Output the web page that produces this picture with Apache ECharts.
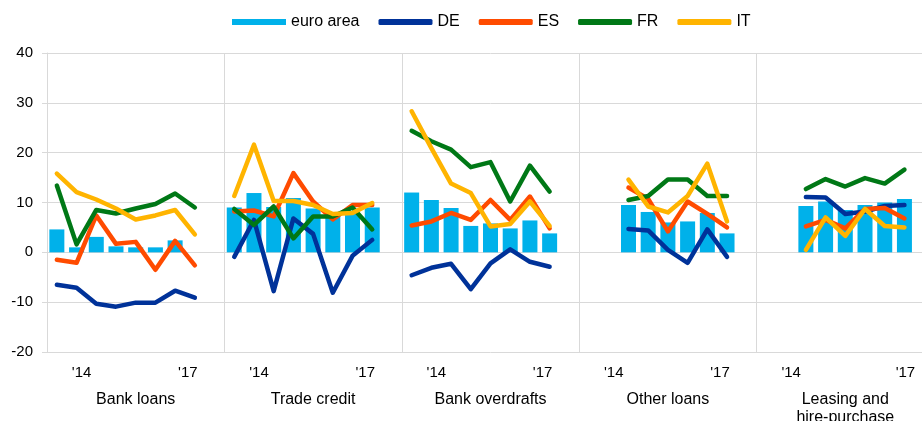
<!DOCTYPE html>
<html>
<head>
<meta charset="utf-8">
<script src="https://cdn.jsdelivr.net/npm/echarts@6/dist/echarts.min.js"></script>
<style>
  html, body { margin: 0; padding: 0; overflow: hidden; background: #fff; }
  #chart { width: 940px; height: 421px; }
</style>
</head>
<body>
<div id="chart"></div>
<script>
// panels (instrument groups) and the survey rounds inside each one
const panels = ["Bank loans", "Trade credit", "Bank overdrafts", "Other loans", "Leasing and\nhire-purchase"];
const periods = ["2013H2", "2014H1", "2014H2", "2015H1", "2015H2", "2016H1", "2016H2", "2017H1"];
const periodTicks = ["", "'14", "", "", "", "", "", "'17"];

// net percentages, one row per panel
const euroArea = [
  [4.6, 1.0, 3.1, 1.2, 1.0, 1.0, 2.4, 0],
  [9.0, 11.9, 9.1, 10.9, 8.8, 7.8, 7.9, 9.0],
  [12.0, 10.5, 8.9, 5.3, 5.8, 4.8, 6.4, 3.8],
  [null, null, 9.5, 8.1, 6.0, 6.2, 7.9, 3.8],
  [null, null, 9.3, 10.2, 8.5, 9.5, 10.0, 10.7]
];
const DE = [
  [-6.5, -7.1, -10.3, -10.9, -10.1, -10.1, -7.7, -9.1],
  [-0.9, 6.5, -7.8, 6.8, 3.7, -8.1, -0.7, 2.5],
  [-4.6, -3.1, -2.3, -7.4, -2.2, 0.6, -1.9, -2.9],
  [null, null, 4.7, 4.4, 0.5, -2.1, 4.6, -0.9],
  [null, null, 11.1, 11.0, 7.7, 8.2, 9.3, 9.5]
];
const ES = [
  [-1.5, -2.1, 7.4, 1.7, 2.1, -3.5, 2.3, -2.6],
  [8.2, 8.4, 7.2, 15.9, 10.2, 6.6, 9.5, 9.5],
  [5.4, 6.2, 7.9, 6.5, 10.5, 6.5, 11.2, 4.8],
  [null, null, 13.0, 10.7, 4.2, 10.2, 7.7, 5.0],
  [null, null, 5.2, 6.5, 4.8, 8.7, 8.9, 6.8]
];
const FR = [
  [13.4, 1.6, 8.5, 7.8, 8.8, 9.7, 11.8, 9.0],
  [8.7, 5.5, 9.2, 2.8, 7.2, 7.2, 9.0, 4.6],
  [24.4, 22.3, 20.6, 17.1, 18.1, 10.2, 17.4, 12.2],
  [null, null, 10.5, 11.3, 14.6, 14.6, 11.3, 11.3],
  [null, null, 12.7, 14.7, 13.2, 14.9, 13.8, 16.6]
];
const IT = [
  [15.8, 12.1, 10.6, 8.8, 6.6, 7.4, 8.5, 3.6],
  [11.3, 21.6, 10.3, 10.3, 9.5, 7.7, 7.9, 9.9],
  [28.3, 20.9, 13.8, 11.9, 5.2, 5.7, 10.2, 5.3],
  [null, null, 14.6, 9.2, 8.0, 11.3, 17.8, 6.2],
  [null, null, 0.5, 7.0, 3.3, 8.7, 5.3, 5.0]
];

const colors = {
  euro: "#00b1ea",
  DE: "#003299",
  ES: "#ff4b00",
  FR: "#007816",
  IT: "#ffb400"
};
const font = "'Liberation Sans', Arial, sans-serif";
const gridColor = "#d9d9d9";
const SLOTS = periods.length + 1; // one empty slot closes every panel

// flat category axis: 8 rounds + 1 gap per panel
const categories = [];
panels.forEach((p) => {
  periods.forEach((r) => categories.push(p + "|" + r));
  categories.push(p + "|gap");
});

const flatten = (rows) => {
  const out = [];
  rows.forEach((row) => {
    row.forEach((v) => out.push(v));
    out.push(null);
  });
  return out;
};

const lineSeries = (name, rows) => ({
  name: name,
  type: "line",
  symbol: "none",
  data: flatten(rows),
  lineStyle: { width: 4.5, color: colors[name], cap: "round", join: "round" },
  itemStyle: { color: colors[name] }
});

const tickStyle = { fontSize: 15, fontFamily: font, color: "#000" };

const chart = echarts.init(document.getElementById("chart"));

const option = {
  animation: false,
  legend: {
    left: 227,
    top: 9,
    itemWidth: 54,
    itemHeight: 6,
    itemGap: 19,
    textStyle: { fontSize: 16, fontFamily: font, color: "#000" },
    data: [
      { name: "euro area", icon: "rect" },
      { name: "DE", icon: "roundRect" },
      { name: "ES", icon: "roundRect" },
      { name: "FR", icon: "roundRect" },
      { name: "IT", icon: "roundRect" }
    ]
  },
  grid: [
    { left: 47, top: 53, right: 6, bottom: 69, outerBoundsMode: "none" },
    { left: 47, top: 53, right: 6, bottom: 69, outerBoundsMode: "none" }
  ],
  xAxis: [
    {
      type: "category",
      gridIndex: 0,
      data: categories,
      axisLine: { lineStyle: { color: gridColor } },
      axisTick: {
        show: true,
        interval: (i) => i % SLOTS === 0,
        length: 75,
        lineStyle: { color: gridColor }
      },
      splitLine: {
        show: true,
        interval: (i) => i % SLOTS === 0,
        lineStyle: { color: gridColor }
      },
      axisLabel: {
        interval: 0,
        margin: 13,
        formatter: (value, index) => {
          const p = Math.floor(index / SLOTS);
          const k = index % SLOTS;
          const t = periodTicks[k] || "";
          if (!t) return "";
          let st = k === 1 ? "a" : "b";
          if (k === 7 && p === panels.length - 1) st = "c";
          return "{" + st + "|" + t + "}";
        },
        rich: {
          a: Object.assign({ padding: [0, 0, 0, 10] }, tickStyle),
          b: Object.assign({ padding: [0, 14, 0, 0] }, tickStyle),
          c: Object.assign({ padding: [0, 0, 0, 2] }, tickStyle)
        }
      }
    },
    {
      type: "category",
      gridIndex: 1,
      data: panels,
      axisLine: { show: false },
      axisTick: { show: false },
      splitLine: { show: false },
      axisLabel: {
        interval: 0,
        margin: 39,
        fontSize: 16,
        lineHeight: 18,
        fontFamily: font,
        color: "#000"
      }
    }
  ],
  yAxis: [
    {
      type: "value",
      gridIndex: 0,
      min: -20,
      max: 40,
      interval: 10,
      axisLine: { show: true, lineStyle: { color: gridColor } },
      axisTick: { show: true, length: 5, lineStyle: { color: gridColor } },
      splitLine: { lineStyle: { color: gridColor } },
      axisLabel: { margin: 14, fontSize: 15, fontFamily: font, color: "#000" }
    },
    { type: "value", gridIndex: 1, show: false, min: -20, max: 40 }
  ],
  series: [
    {
      name: "euro area",
      type: "bar",
      barWidth: 15,
      data: flatten(euroArea),
      itemStyle: { color: colors.euro }
    },
    lineSeries("DE", DE),
    lineSeries("ES", ES),
    lineSeries("FR", FR),
    lineSeries("IT", IT)
  ]
};

chart.setOption(option);
</script>
</body>
</html>
